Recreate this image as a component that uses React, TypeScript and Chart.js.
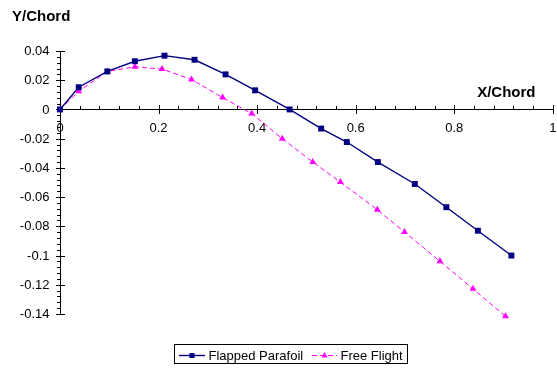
import React, { useEffect, useRef } from "react";
import { Chart, registerables } from "chart.js";

Chart.register(...registerables);

const flappedX = [0, 0.038, 0.096, 0.152, 0.212, 0.273, 0.336, 0.396, 0.466, 0.53, 0.582, 0.645, 0.72, 0.784, 0.848, 0.916];
const flappedY = [0, 0.0152, 0.026, 0.033, 0.0368, 0.034, 0.024, 0.0131, 0, -0.0131, -0.0223, -0.036, -0.051, -0.0669, -0.083, -0.1];
const freeX = [0, 0.038, 0.096, 0.152, 0.207, 0.267, 0.33, 0.389, 0.451, 0.513, 0.569, 0.644, 0.699, 0.771, 0.838, 0.904];
const freeY = [0, 0.0124, 0.026, 0.0292, 0.0276, 0.0205, 0.0081, -0.0028, -0.02, -0.036, -0.0497, -0.0687, -0.0839, -0.1039, -0.1228, -0.1416];
const xTickValues = [0, 0.2, 0.4, 0.6, 0.8, 1];
const xTickLabels = ["0", "0.2", "0.4", "0.6", "0.8", "1"];
const yTickValues = [0.04, 0.02, 0, -0.02, -0.04, -0.06, -0.08, -0.1, -0.12, -0.14];
const yTickLabels = ["0.04", "0.02", "0", "-0.02", "-0.04", "-0.06", "-0.08", "-0.1", "-0.12", "-0.14"];
const seriesNames = ["Flapped Parafoil", "Free Flight"];
const xTitle = "X/Chord";
const yTitle = "Y/Chord";

const FONT = "'Liberation Sans', Arial, sans-serif";

const axesPlugin = {
  id: "customAxes",
  beforeDatasetsDraw(chart: any) {
    const { ctx, scales } = chart;
    const x = scales.x;
    const y = scales.y;
    const x0 = Math.round(x.getPixelForValue(0)) + 0.5;
    const y0 = Math.round(y.getPixelForValue(0)) + 0.5;
    const xL = x.getPixelForValue(0);
    const xR = x.getPixelForValue(1);
    const yT = y.getPixelForValue(0.04);
    const yB = y.getPixelForValue(-0.14);
    ctx.save();
    ctx.strokeStyle = "#000";
    ctx.lineWidth = 1;
    ctx.beginPath();
    ctx.moveTo(Math.round(xL), y0);
    ctx.lineTo(Math.round(xR) + 1, y0);
    ctx.moveTo(x0, Math.round(yT));
    ctx.lineTo(x0, Math.round(yB) + 1);
    for (let i = 0; i <= 25; i++) {
      const v = i * 0.04;
      const px = Math.round(x.getPixelForValue(v)) + 0.5;
      if (i % 5 === 0) {
        ctx.moveTo(px, y0 - 4.5);
        ctx.lineTo(px, y0 + 4.5);
      } else {
        ctx.moveTo(px, y0 - 3.5);
        ctx.lineTo(px, y0);
      }
    }
    for (let i = 0; i <= 45; i++) {
      const v = 0.04 - i * 0.004;
      const py = Math.round(y.getPixelForValue(v)) + 0.5;
      if (i % 5 === 0) {
        ctx.moveTo(x0 - 4.5, py);
        ctx.lineTo(x0 + 4.5, py);
      } else {
        ctx.moveTo(x0 - 3.5, py);
        ctx.lineTo(x0, py);
      }
    }
    ctx.stroke();

    ctx.fillStyle = "#000";
    ctx.font = `13px ${FONT}`;
    ctx.textAlign = "center";
    ctx.textBaseline = "middle";
    xTickValues.forEach((v, i) => {
      ctx.fillText(xTickLabels[i], x.getPixelForValue(v), y0 + 19);
    });
    ctx.textAlign = "right";
    yTickValues.forEach((v, i) => {
      ctx.fillText(yTickLabels[i], x0 - 11, y.getPixelForValue(v) + 0.5);
    });

    ctx.font = `bold 15px ${FONT}`;
    ctx.textAlign = "left";
    ctx.textBaseline = "alphabetic";
    ctx.fillText(yTitle, 12, 20.5);
    ctx.textAlign = "right";
    ctx.fillText(xTitle, 535.5, 97);
    ctx.restore();
  },
  afterDraw(chart: any) {
    const { ctx } = chart;
    const ds = chart.data.datasets;
    ctx.save();
    ctx.strokeStyle = "#000";
    ctx.lineWidth = 1;
    ctx.strokeRect(174.5, 344.5, 233, 19);
    const cy = 355;
    const items = [
      { x1: 179, x2: 205, tx: 208.5 },
      { x1: 312, x2: 337, tx: 340.5 },
    ];
    ctx.font = `13px ${FONT}`;
    ctx.textBaseline = "middle";
    ctx.textAlign = "left";
    items.forEach((it, i) => {
      const d = ds[i];
      ctx.strokeStyle = d.borderColor;
      ctx.lineWidth = d.borderWidth;
      ctx.setLineDash(d.borderDash || []);
      ctx.beginPath();
      ctx.moveTo(it.x1, cy + 0.5);
      ctx.lineTo(it.x2, cy + 0.5);
      ctx.stroke();
      ctx.setLineDash([]);
      ctx.fillStyle = d.pointBackgroundColor;
      const mx = (it.x1 + it.x2) / 2;
      ctx.beginPath();
      if (d.pointStyle === "rect") {
        ctx.rect(mx - 2.5, cy - 2, 5, 5);
      } else {
        ctx.moveTo(mx, cy - 3);
        ctx.lineTo(mx + 3, cy + 2.5);
        ctx.lineTo(mx - 3, cy + 2.5);
        ctx.closePath();
      }
      ctx.fill();
      ctx.fillStyle = "#000";
      ctx.fillText(seriesNames[i], it.tx, cy + 1);
    });
    ctx.restore();
  },
};

export default function App() {
  const ref = useRef<HTMLCanvasElement | null>(null);
  useEffect(() => {
    if (!ref.current) return;
    const chart = new Chart(ref.current, {
      type: "scatter",
      data: {
        datasets: [
          {
            label: seriesNames[0],
            data: flappedX.map((v, i) => ({ x: v, y: flappedY[i] })),
            showLine: true,
            borderColor: "#000080",
            backgroundColor: "#000080",
            pointBackgroundColor: "#000080",
            pointBorderColor: "#000080",
            borderWidth: 1.4,
            pointStyle: "rect",
            pointRadius: 4.2,
            pointBorderWidth: 0,
            clip: false as any,
          } as any,
          {
            label: seriesNames[1],
            data: freeX.map((v, i) => ({ x: v, y: freeY[i] })),
            showLine: true,
            borderColor: "#FF00FF",
            backgroundColor: "#FF00FF",
            pointBackgroundColor: "#FF00FF",
            pointBorderColor: "#FF00FF",
            borderWidth: 1,
            borderDash: [5, 3],
            pointStyle: "triangle",
            pointRadius: 4,
            pointBorderWidth: 0,
            clip: false as any,
          } as any,
        ],
      },
      options: {
        responsive: false,
        animation: false,
        layout: { padding: { left: 60, right: 2, top: 51, bottom: 54 } },
        plugins: { legend: { display: false }, tooltip: { enabled: false } },
        scales: {
          x: { type: "linear", min: 0, max: 1, display: false },
          y: { type: "linear", min: -0.14, max: 0.04, display: false },
        },
      },
      plugins: [axesPlugin],
    });
    return () => chart.destroy();
  }, []);
  return (
    <div style={{ position: "absolute", left: 0, top: 0, width: 557, height: 368, background: "#fff" }}>
      <canvas ref={ref} width={557} height={368} />
    </div>
  );
}
